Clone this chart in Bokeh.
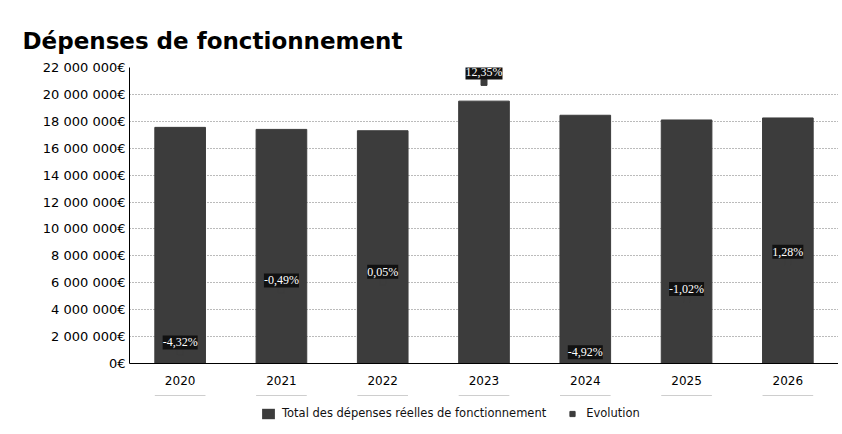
from bokeh.plotting import figure
from bokeh.layouts import column
from bokeh.models import (ColumnDataSource, Range1d, LabelSet, Legend, LegendItem,
                          SingleIntervalTicker, CustomJSTickFormatter, Title)
from bokeh.embed import file_html
from bokeh.resources import INLINE

# ---- data ----
years = ["2020", "2021", "2022", "2023", "2024", "2025", "2026"]
depenses = [17_550_000, 17_400_000, 17_300_000, 19_500_000, 18_450_000, 18_100_000, 18_250_000]
evolution = [-4.32, -0.49, 0.05, 12.35, -4.92, -1.02, 1.28]
evolution_labels = ["-4,32%", "-0,49%", "0,05%", "12,35%", "-4,92%", "-1,02%", "1,28%"]
legend_labels = ["Total des dépenses réelles de fonctionnement", "Evolution"]

FONT = "DejaVu Sans"
BAR = "#3c3c3c"
W = 838

src = ColumnDataSource(dict(year=years, dep=depenses, evo=evolution, lab=evolution_labels))

p = figure(x_range=years, y_range=Range1d(0, 22_000_000), width=W, height=395,
           output_backend="svg", toolbar_location=None,
           min_border_left=129, min_border_right=0, min_border_top=67, min_border_bottom=32)
p.extra_y_ranges = {"evo": Range1d(-5.0, 13.27)}

p.title = Title(text="Dépenses de fonctionnement", text_font=FONT, text_font_size="23px",
                text_font_style="bold", text_color="#000000", align="left", offset=-107,
                standoff=28, vertical_align="bottom")

bars = p.vbar(x="year", top="dep", width=0.5, source=src, fill_color=BAR, line_color=BAR)
pts = p.scatter(x="year", y="evo", source=src, y_range_name="evo", marker="square",
                size=6, fill_color=BAR, line_color=BAR)

labels = LabelSet(x="year", y="evo", text="lab", source=src, y_range_name="evo",
                  y_offset=10, text_align="center", text_baseline="middle",
                  text_font_size="12px", text_font=FONT, text_color="white",
                  background_fill_color="#111111", border_line_color=None)
p.add_layout(labels)

# axes
p.yaxis.ticker = SingleIntervalTicker(interval=2_000_000)
p.yaxis.formatter = CustomJSTickFormatter(code="""
    return tick.toFixed(0).replace(/\\B(?=(\\d{3})+(?!\\d))/g, ' ') + '€';
""")
for ax in (p.xaxis, p.yaxis):
    ax.major_label_text_font = FONT
    ax.major_label_text_color = "#000000"
    ax.axis_line_color = "#000000"
    ax.axis_line_width = 1
    ax.major_tick_line_color = None
    ax.minor_tick_line_color = None
    ax.major_tick_out = 0
    ax.major_tick_in = 0
p.yaxis.major_label_text_font_size = "13px"
p.xaxis.major_label_text_font_size = "12px"
p.xaxis.major_label_standoff = 12
p.yaxis.major_label_standoff = 0

p.xgrid.grid_line_color = None
p.ygrid.grid_line_color = "#777777"
p.ygrid.grid_line_dash = "1 2"
p.ygrid.grid_line_width = 1
p.outline_line_color = None
p.x_range.range_padding = 0

# ---- legend in its own strip below the chart (same data, zero-height, out of view) ----
lg = figure(x_range=years, y_range=Range1d(-2, -1), width=W, height=30,
            output_backend="svg", toolbar_location=None,
            min_border_left=0, min_border_right=0, min_border_top=0, min_border_bottom=0)
lg.extra_y_ranges = {"evo": Range1d(100, 101)}
lg.axis.visible = False
lg.grid.visible = False
lg.outline_line_color = None
lb = lg.vbar(x="year", top="dep", bottom="dep", width=0.5, source=src,
             fill_color=BAR, line_color=None)
lp = lg.scatter(x="year", y="evo", source=src, y_range_name="evo", marker="square",
                size=6, fill_color=BAR, line_color=BAR)
legend = Legend(items=[LegendItem(label=legend_labels[0], renderers=[lb]),
                       LegendItem(label=legend_labels[1], renderers=[lp])],
                orientation="horizontal", location=(131, 5), label_text_font=FONT,
                label_text_font_size="11.5px", label_text_color="#111111",
                border_line_color=None, background_fill_alpha=0,
                spacing=18, glyph_width=16, glyph_height=13, label_standoff=6,
                padding=3, margin=0)
lg.add_layout(legend, "center")

layout = column(p, lg, spacing=0)
open("out.html", "w").write(file_html(layout, INLINE))
